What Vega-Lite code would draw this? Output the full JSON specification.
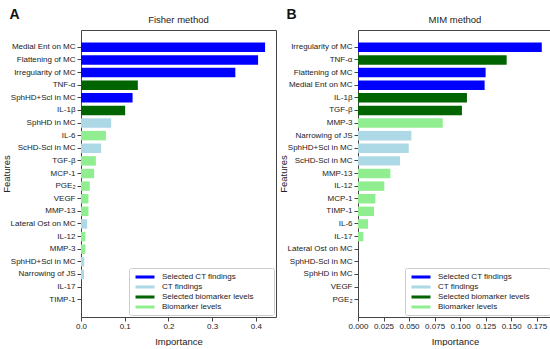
{
  "$schema": "https://vega.github.io/schema/vega-lite/v6.json",
  "padding": {"left": 0, "top": 8, "right": 1, "bottom": 0},
  "spacing": 0,
  "datasets": {
    "fisher": [
      {"feature": "Medial Ent on MC", "importance": 0.421, "group": "Selected CT findings"},
      {"feature": "Flattening of MC", "importance": 0.405, "group": "Selected CT findings"},
      {"feature": "Irregularity of MC", "importance": 0.353, "group": "Selected CT findings"},
      {"feature": "TNF-α", "importance": 0.130, "group": "Selected biomarker levels"},
      {"feature": "SphHD+Scl in MC", "importance": 0.118, "group": "Selected CT findings"},
      {"feature": "IL-1β", "importance": 0.101, "group": "Selected biomarker levels"},
      {"feature": "SphHD in MC", "importance": 0.069, "group": "CT findings"},
      {"feature": "IL-6", "importance": 0.057, "group": "Biomarker levels"},
      {"feature": "ScHD-Scl in MC", "importance": 0.046, "group": "CT findings"},
      {"feature": "TGF-β", "importance": 0.034, "group": "Biomarker levels"},
      {"feature": "MCP-1", "importance": 0.030, "group": "Biomarker levels"},
      {"feature": "PGE₂", "importance": 0.020, "group": "Biomarker levels"},
      {"feature": "VEGF", "importance": 0.017, "group": "Biomarker levels"},
      {"feature": "MMP-13", "importance": 0.017, "group": "Biomarker levels"},
      {"feature": "Lateral Ost on MC", "importance": 0.014, "group": "CT findings"},
      {"feature": "IL-12", "importance": 0.010, "group": "Biomarker levels"},
      {"feature": "MMP-3", "importance": 0.010, "group": "Biomarker levels"},
      {"feature": "SphHD+Scl in MC\u200b", "importance": 0.0075, "group": "CT findings"},
      {"feature": "Narrowing of JS", "importance": 0.007, "group": "CT findings"},
      {"feature": "IL-17", "importance": 0.0, "group": "Biomarker levels"},
      {"feature": "TIMP-1", "importance": 0.0, "group": "Biomarker levels"}
    ],
    "mim": [
      {"feature": "Irregularity of MC", "importance": 0.180, "group": "Selected CT findings"},
      {"feature": "TNF-α", "importance": 0.1456, "group": "Selected biomarker levels"},
      {"feature": "Flattening of MC", "importance": 0.125, "group": "Selected CT findings"},
      {"feature": "Medial Ent on MC", "importance": 0.124, "group": "Selected CT findings"},
      {"feature": "IL-1β", "importance": 0.1067, "group": "Selected biomarker levels"},
      {"feature": "TGF-β", "importance": 0.1018, "group": "Selected biomarker levels"},
      {"feature": "MMP-3", "importance": 0.083, "group": "Biomarker levels"},
      {"feature": "Narrowing of JS", "importance": 0.0523, "group": "CT findings"},
      {"feature": "SphHD+Scl in MC", "importance": 0.0497, "group": "CT findings"},
      {"feature": "ScHD-Scl in MC", "importance": 0.0412, "group": "CT findings"},
      {"feature": "MMP-13", "importance": 0.0317, "group": "Biomarker levels"},
      {"feature": "IL-12", "importance": 0.0258, "group": "Biomarker levels"},
      {"feature": "MCP-1", "importance": 0.017, "group": "Biomarker levels"},
      {"feature": "TIMP-1", "importance": 0.0157, "group": "Biomarker levels"},
      {"feature": "IL-6", "importance": 0.0098, "group": "Biomarker levels"},
      {"feature": "IL-17", "importance": 0.0052, "group": "Biomarker levels"},
      {"feature": "Lateral Ost on MC", "importance": 0.0, "group": "CT findings"},
      {"feature": "SphHD-Scl in MC", "importance": 0.0, "group": "CT findings"},
      {"feature": "SphHD in MC", "importance": 0.0, "group": "CT findings"},
      {"feature": "VEGF", "importance": 0.0, "group": "Biomarker levels"},
      {"feature": "PGE₂", "importance": 0.0, "group": "Biomarker levels"}
    ]
  },
  "hconcat": [
    {
      "title": {"text": "A", "anchor": "start", "frame": "bounds", "fontSize": 14, "fontWeight": "bold", "offset": -8, "dx": 9, "color": "#111"},
      "vconcat": [
        {
          "width": 195,
          "height": 287,
          "title": {"text": "Fisher method", "fontSize": 9.5, "fontWeight": "normal", "offset": 6},
          "data": {"name": "fisher"},
          "mark": {"type": "bar"},
          "encoding": {
            "y": {"field": "feature", "type": "nominal", "sort": null,
                  "scale": {"paddingInner": 0.25, "paddingOuter": 1.0},
                  "axis": {"title": "Features", "minExtent": 70, "maxExtent": 70, "titlePadding": 0}},
            "x": {"field": "importance", "type": "quantitative",
                  "scale": {"domain": [0, 0.446], "nice": false},
                  "axis": {"values": [0, 0.1, 0.2, 0.3, 0.4], "format": ".1f", "title": "Importance"}},
            "color": {"field": "group", "type": "nominal",
                      "scale": {"domain": ["Selected CT findings", "CT findings", "Selected biomarker levels", "Biomarker levels"],
                                "range": ["#0000ff", "#add8e6", "#006400", "#90ee90"]},
                      "legend": {"title": "\u00a0\u00a0\u00a0\u00a0\u00a0\u00a0\u00a0", "orient": "bottom-right", "offset": 2}}
          }
        }
      ],
      "resolve": {"scale": {"color": "independent"}, "legend": {"color": "independent"}}
    },
    {
      "title": {"text": "B", "anchor": "start", "frame": "bounds", "fontSize": 14, "fontWeight": "bold", "offset": -8, "dx": 9, "color": "#111"},
      "vconcat": [
        {
          "width": 194,
          "height": 287,
          "title": {"text": "MIM method", "fontSize": 9.5, "fontWeight": "normal", "offset": 6},
          "data": {"name": "mim"},
          "mark": {"type": "bar"},
          "encoding": {
            "y": {"field": "feature", "type": "nominal", "sort": null,
                  "scale": {"paddingInner": 0.25, "paddingOuter": 1.0},
                  "axis": {"title": "Features", "minExtent": 70, "maxExtent": 70, "titlePadding": 0}},
            "x": {"field": "importance", "type": "quantitative",
                  "scale": {"domain": [0, 0.19], "nice": false},
                  "axis": {"values": [0, 0.025, 0.05, 0.075, 0.1, 0.125, 0.15, 0.175], "format": ".3f", "title": "Importance"}},
            "color": {"field": "group", "type": "nominal",
                      "scale": {"domain": ["Selected CT findings", "CT findings", "Selected biomarker levels", "Biomarker levels"],
                                "range": ["#0000ff", "#add8e6", "#006400", "#90ee90"]},
                      "legend": {"title": "\u00a0\u00a0\u00a0\u00a0\u00a0\u00a0\u00a0", "orient": "bottom-right", "offset": 2}}
          }
        }
      ],
      "resolve": {"scale": {"color": "independent"}, "legend": {"color": "independent"}}
    }
  ],
  "resolve": {"scale": {"color": "independent"}, "legend": {"color": "independent"}},
  "config": {
    "font": "Liberation Sans",
    "view": {"stroke": "#444", "strokeWidth": 1},
    "title": {"font": "Liberation Sans", "color": "#222"},
    "axis": {
      "grid": false, "domain": false, "tickColor": "#444", "tickSize": 4,
      "labelFont": "Liberation Sans", "labelFontSize": 8, "labelColor": "#222", "labelPadding": 2,
      "titleFont": "Liberation Sans", "titleFontSize": 9.5, "titleFontWeight": "normal", "titleColor": "#222"
    },
    "axisX": {"labelFlush": false, "labelPadding": 1, "titlePadding": 6},
    "legend": {
      "titleOrient": "right",
      "titleFontSize": 8,
      "titlePadding": 16,
      "symbolType": "M-2,-0.32H2V0.32H-2Z",
      "symbolSize": 90,
      "symbolStrokeWidth": 0,
      "symbolOpacity": 1,
      "symbolOffset": 7,
      "labelFont": "Liberation Sans",
      "labelFontSize": 8,
      "labelColor": "#222",
      "labelOffset": 12,
      "fillColor": "white",
      "strokeColor": "#ccc",
      "padding": 4,
      "rowPadding": 1,
      "cornerRadius": 2
    }
  }
}
